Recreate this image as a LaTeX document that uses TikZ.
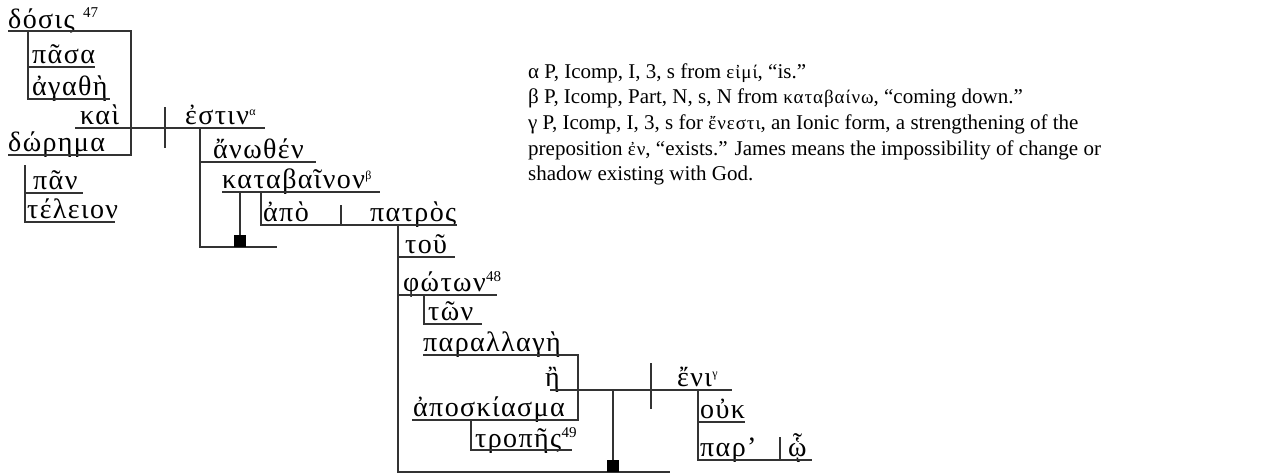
\documentclass[tikz,border=0pt]{standalone}
\usepackage{fontspec}
\setmainfont{Liberation Serif}
\newfontfamily\gk{Liberation Serif}[LetterSpace=5]
\begin{document}
\begin{tikzpicture}[x=1pt,y=-1pt,
  ln/.style={draw=black!80,line width=1.2pt},
  gw/.style={anchor=base west,inner sep=0pt,font=\gk\fontsize{28}{28}\selectfont},
  sup/.style={anchor=base west,inner sep=0pt,font=\fontsize{15}{15}\selectfont},
  gsup/.style={anchor=base west,inner sep=0pt,font=\fontsize{12}{12}\selectfont},
  note/.style={anchor=base west,inner sep=0pt,font=\fontsize{21}{21}\selectfont},
  sq/.style={fill=black}]
\useasboundingbox (0,0) rectangle (1264,474);
% words
\node[gw] (dosis) at (8,28) {δόσις};
\node[sup] (n47) at (83,17) {47};
\node[gw] (pasa) at (32,63) {πᾶσα};
\node[gw] (agathe) at (32,95) {ἀγαθὴ};
\node[gw] (kai) at (80,124) {καὶ};
\node[gw] (estin) at (185,124) {ἐστιν};
\node[gsup] (sa) at (estin.base east) [yshift=9pt] {α};
\node[gw] (dorema) at (8,151) {δώρημα};
\node[gw] (anothen) at (213,158) {ἄνωθέν};
\node[gw] (pan) at (33,189) {πᾶν};
\node[gw] (teleion) at (27,218) {τέλειον};
\node[gw] (katabainon) at (222,188) {καταβαῖνον};
\node[gsup] (sb) at (katabainon.base east) [yshift=9pt] {β};
\node[gw] (apo) at (263,221) {ἀπὸ};
\node[gw] (patros) at (370,221) {πατρὸς};
\node[gw] (tou) at (405,253) {τοῦ};
\node[gw] (photon) at (403,291) {φώτων};
\node[sup] (n48) at (photon.base east) [yshift=10pt] {48};
\node[gw] (ton) at (428,320) {τῶν};
\node[gw] (parallage) at (423,351) {παραλλαγὴ};
\node[gw] (e) at (545,386) {ἢ};
\node[gw] (aposkiasma) at (413,416) {ἀποσκίασμα};
\node[gw] (tropes) at (475,447) {τροπῆς};
\node[sup] (n49) at (tropes.base east) [yshift=10pt] {49};
\node[gw] (eni) at (677,386) {ἔνι};
\node[gsup] (sg) at (eni.base east) [yshift=9pt] {γ};
\node[gw] (ouk) at (700,418) {οὐκ};
\node[gw] (par) at (700,456) {παρ’};
\node[gw] (ho) at (788,456) {ᾧ};
% lines
\draw[ln] (8,31) -- (131,31) -- (131,155) -- (8,155);
\draw[ln] (28,31) -- (28,99) -- (110,99);
\draw[ln] (28,67) -- (95,67);
\draw[ln] (75,128) -- (265,128);
\draw[ln] (165,107) -- (165,148);
\draw[ln] (200,128) -- (200,247) -- (277,247);
\draw[ln] (200,162) -- (316,162);
\draw[ln] (25,165) -- (25,222) -- (115,222);
\draw[ln] (25,193) -- (83,193);
\draw[ln] (222,192) -- (380,192);
\draw[ln] (240,192) -- (240,236);
\fill[sq] (234,235) rectangle (246,247);
\draw[ln] (261,192) -- (261,225) -- (457,225);
\draw[ln] (341,205) -- (341,225);
\draw[ln] (398,225) -- (398,472) -- (670,472);
\draw[ln] (398,257) -- (455,257);
\draw[ln] (398,295) -- (497,295);
\draw[ln] (424,295) -- (424,324) -- (482,324);
\draw[ln] (423,355) -- (578,355) -- (578,420) -- (412,420);
\draw[ln] (471,420) -- (471,450) -- (572,450);
\draw[ln] (550,390) -- (732,390);
\draw[ln] (651,363) -- (651,409);
\draw[ln] (613,390) -- (613,461);
\fill[sq] (607,460) rectangle (619,472);
\draw[ln] (698,390) -- (698,460) -- (812,460);
\draw[ln] (698,422) -- (745,422);
\draw[ln] (780,437) -- (780,460);
% notes
\node[note] (na) at (528,78) {α P, Icomp, I, 3, s from {\gk\fontsize{19}{19}\selectfont εἰμί}, “is.”};
\node[note] (nb) at (528,103) {β P, Icomp, Part, N, s, N from {\gk\fontsize{19}{19}\selectfont καταβαίνω}, “coming down.”};
\node[note] (nc) at (528,129) {γ P, Icomp, I, 3, s for {\gk\fontsize{19}{19}\selectfont ἔνεστι}, an Ionic form, a strengthening of the};
\node[note] (nd) at (528,155) {preposition {\gk\fontsize{19}{19}\selectfont ἐν}, “exists.” James means the impossibility of change or};
\node[note] (ne) at (528,180) {shadow existing with God.};
\end{tikzpicture}
\end{document}
